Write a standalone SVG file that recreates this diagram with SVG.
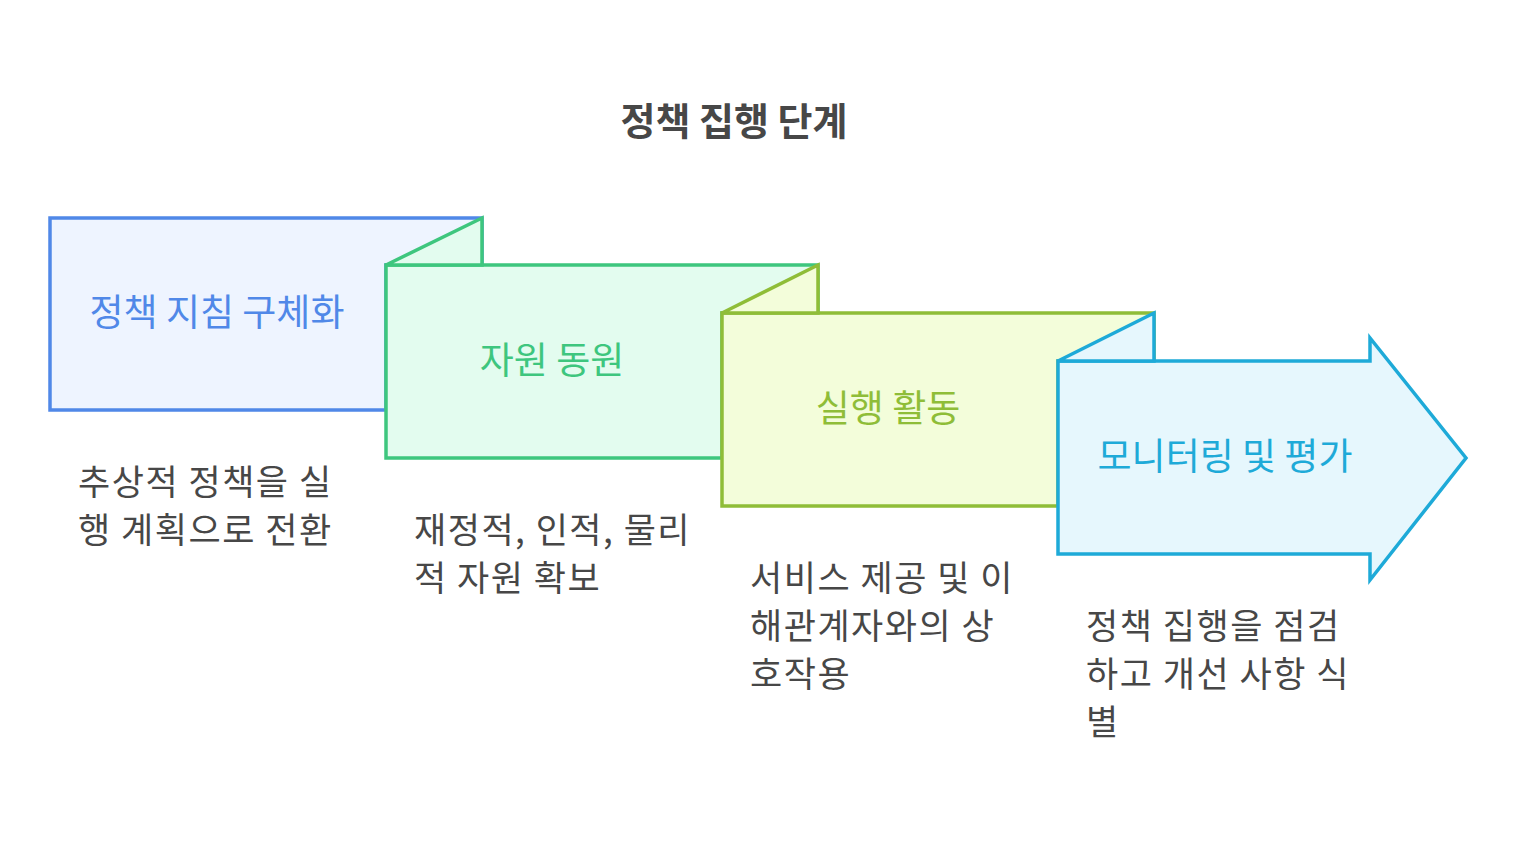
<svg xmlns="http://www.w3.org/2000/svg" width="1517" height="844" viewBox="0 0 1517 844">
<style>
text{font-family:"Noto Sans CJK KR","Noto Sans",sans-serif}
.s{stroke-width:3.5;stroke-linejoin:miter}
.lab{font-size:37px;text-anchor:middle}
.d{font-size:35px;fill:#474747;letter-spacing:1.5px}
</style>
<rect width="1517" height="844" fill="#fff"/>
<text x="734" y="135" text-anchor="middle" font-size="38" font-weight="bold" fill="#474747">정책 집행 단계</text>
<g id="n1">
<polygon class="s" points="50,218 482,218 482,265 386,265 386,410 50,410" fill="#eef4ff" stroke="#5088e8"/>
<text class="lab" x="217" y="326" fill="#5088e8">정책 지침 구체화</text>
<text class="d" x="78" y="495">추상적 정책을 실</text>
<text class="d" x="78" y="543">행 계획으로 전환</text>
</g>
<g id="n2">
<polygon class="s" points="386,265 818,265 818,313 722,313 722,458 386,458" fill="#e3fcef" stroke="#3ec67e"/>
<polygon class="s" points="386,265 482,218 482,265" fill="#e3fcef" stroke="#3ec67e"/>
<text class="lab" x="552" y="374" fill="#3ec67e">자원 동원</text>
<text class="d" x="414" y="543">재정적, 인적, 물리</text>
<text class="d" x="414" y="591">적 자원 확보</text>
</g>
<g id="n3">
<polygon class="s" points="722,313 1154,313 1154,361 1058,361 1058,506 722,506" fill="#f3fdda" stroke="#8fbd38"/>
<polygon class="s" points="722,313 818,265 818,313" fill="#f3fdda" stroke="#8fbd38"/>
<text class="lab" x="888" y="422" fill="#8fbd38">실행 활동</text>
<text class="d" x="750" y="591">서비스 제공 및 이</text>
<text class="d" x="750" y="639">해관계자와의 상</text>
<text class="d" x="750" y="687">호작용</text>
</g>
<g id="n4">
<polygon class="s" points="1058,361 1370,361 1370,338 1466,458 1370,580 1370,554 1058,554" fill="#e6f7fd" stroke="#1eaad8"/>
<polygon class="s" points="1058,361 1154,313 1154,361" fill="#e6f7fd" stroke="#1eaad8"/>
<text class="lab" x="1225" y="470" fill="#1eaad8">모니터링 및 평가</text>
<text class="d" x="1086" y="639">정책 집행을 점검</text>
<text class="d" x="1086" y="687">하고 개선 사항 식</text>
<text class="d" x="1086" y="735">별</text>
</g>
<g id="connectors"></g>
</svg>
